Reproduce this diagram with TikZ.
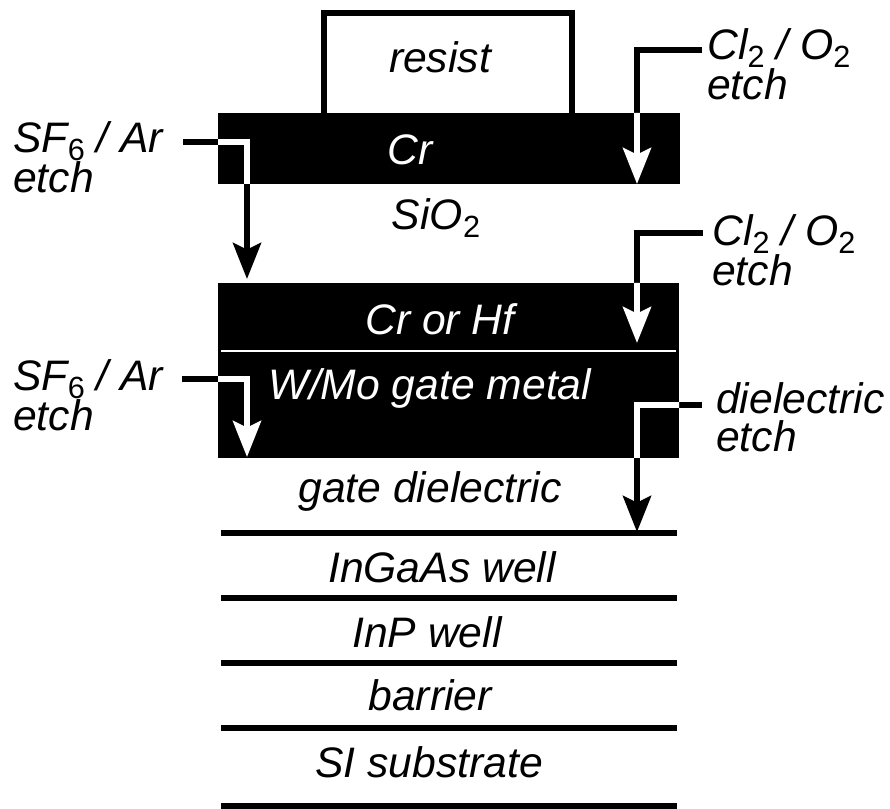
\documentclass[tikz,border=0pt]{standalone}
\usepackage{fontspec}
\setmainfont{Liberation Sans}
\usetikzlibrary{arrows.meta}
\newcommand\lowsub[1]{\raisebox{-0.35ex}{\fontsize{23}{23}\selectfont\upshape #1}}

\begin{document}
\begin{tikzpicture}[x=0.75pt, y=-0.75pt, >={Stealth[length=27pt,width=21pt,inset=5pt]},
txt/.style={font=\itshape\fontsize{32}{28.5}\selectfont, inner sep=0pt, anchor=base},
wtxt/.style={txt, text=white},
gas/.style={txt, align=left, anchor=base west},
edge/.style={line width=4.5pt},
etch/.style={line width=4.5pt, ->}]

\useasboundingbox (0,0) rectangle (890,809);

% mask stack
\draw[edge, line join=miter] (324,113) |- (572,13) -- (572,113);
\fill (218,113) rectangle (680,184);
\node[txt] (resist) at (440,73) {resist};
\node[wtxt] (cr) at (410,165) {Cr};
\node[txt] (sio2) at (436,230) {SiO\lowsub{2}};

% gate stack
\fill (218,283) rectangle (679,458);
\draw[white, line width=2.2pt] (221,351) -- (676,351);
\node[wtxt] (crhf) at (440,335) {Cr or Hf};
\node[wtxt] (wmo) at (430,400) {W/Mo gate metal};
\node[txt] (gdiel) at (430,503) {gate dielectric};

% epi layers
\foreach \y in {533,598,663,728,806}
  \draw[edge] (221,\y) -- (677,\y);
\node[txt] (ingaas) at (442,582) {InGaAs well};
\node[txt] (inp) at (427,647) {InP well};
\node[txt] (barrier) at (430,710) {barrier};
\node[txt] (subst) at (429,777) {SI substrate};

% etch labels (base = last line)
\node[gas] (sfA) at (13,193) {SF\lowsub{6} / Ar\\etch};
\node[gas] (clA) at (707,100) {Cl\lowsub{2} / O\lowsub{2}\\etch};
\node[gas] (clB) at (712,286) {Cl\lowsub{2} / O\lowsub{2}\\etch};
\node[gas] (sfB) at (13,431) {SF\lowsub{6} / Ar\\etch};
\node[gas] (diel) at (716,452) {dielectric\\etch};

\coordinate (sfAin) at (183,142);  \coordinate (sfAtip) at (247,279);
\coordinate (clAin) at (702,50);   \coordinate (clAtip) at (637,184);
\coordinate (clBin) at (703,233);  \coordinate (clBtip) at (637,343);
\coordinate (sfBin) at (182,379);  \coordinate (sfBtip) at (247,457);
\coordinate (dielin) at (702,405); \coordinate (dieltip) at (637,532);

\draw[etch] (sfAin) -| (sfAtip);
\draw[etch] (clAin) -| (clAtip);
\draw[etch] (clBin) -| (clBtip);
\draw[etch] (sfBin) -| (sfBtip);
\draw[etch] (dielin) -| (dieltip);

% white where the arrows cross the black films
\begin{scope}
\clip (218,113) rectangle (680,184) (218,283) rectangle (679,458);
\draw[etch, white] (sfAin) -| (sfAtip);
\draw[etch, white] (clAin) -| (clAtip);
\draw[etch, white] (clBin) -| (clBtip);
\draw[etch, white] (sfBin) -| (sfBtip);
\draw[etch, white] (dielin) -| (dieltip);
\end{scope}
\end{tikzpicture}
\end{document}
